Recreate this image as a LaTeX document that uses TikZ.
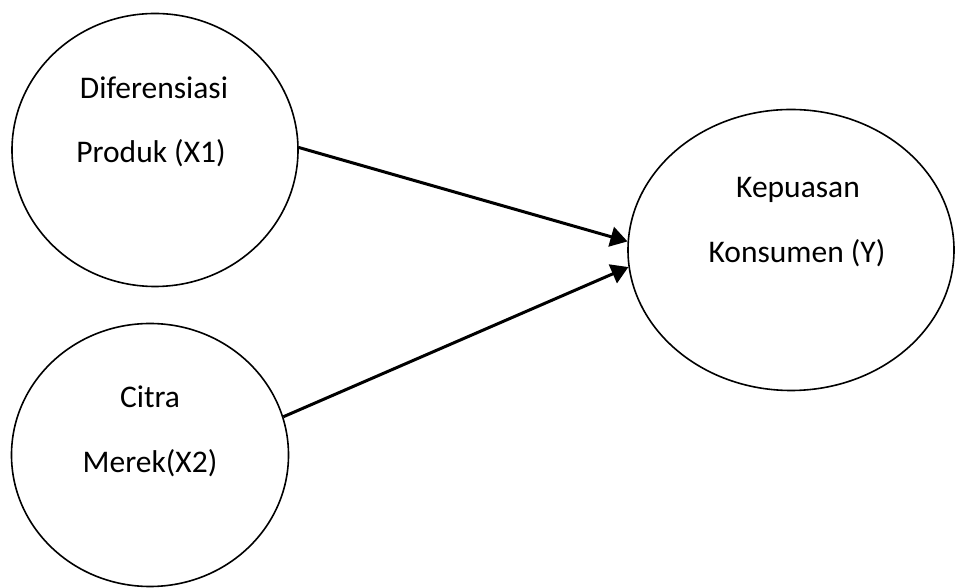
\documentclass[tikz,border=0pt]{standalone}
\usepackage{fontspec}
\setmainfont{Carlito}
\usetikzlibrary{arrows.meta,shapes.geometric}
\begin{document}
\begin{tikzpicture}[x=1pt,y=1pt,
  var/.style={draw=black,line width=1.6pt,ellipse,inner sep=0pt},
  lbl/.style={anchor=base,font=\fontsize{31.5}{36}\selectfont,inner sep=0pt},
  link/.style={line width=3pt,-{Triangle[length=17pt,width=20pt]}}]
\useasboundingbox (0,0) rectangle (956,588);
\node[var,minimum width=286pt,minimum height=273pt] (e1) at (155,438) {};
\node[var,minimum width=277pt,minimum height=263pt] (e2) at (150,133) {};
\node[var,minimum width=326pt,minimum height=281pt] (e3) at (791,338) {};
\node[lbl] (t1a) at (154,489) {Diferensiasi};
\node[lbl] (t1b) at (151,425) {Produk (X1)};
\node[lbl] (t2a) at (150,180) {Citra};
\node[lbl] (t2b) at (150,115) {Merek(X2)};
\node[lbl] (t3a) at (798,390) {Kepuasan};
\node[lbl] (t3b) at (797,325) {Konsumen (Y)};
\draw[link] (e1.1) -- (e3.177);
\draw[link] (e2.16) -- (e3.186);
\end{tikzpicture}
\end{document}
